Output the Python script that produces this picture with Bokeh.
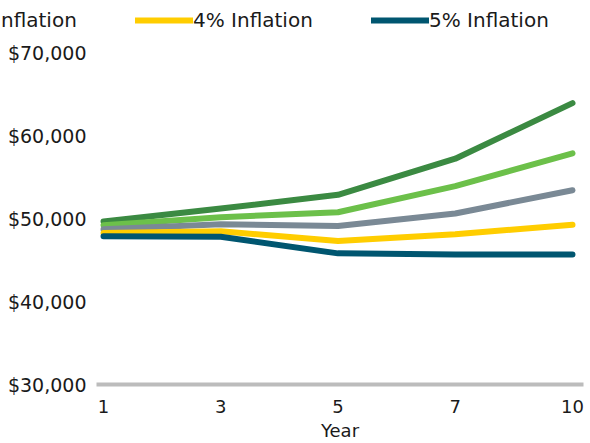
from bokeh.plotting import figure
from bokeh.layouts import column
from bokeh.models import (ColumnDataSource, FixedTicker, NumeralTickFormatter,
                          Legend, LegendItem, Range1d)
from bokeh.embed import file_html
from bokeh.resources import INLINE

# ---- data ----
years = ["1", "3", "5", "7", "10"]
series_names = ["1% Inflation", "2% Inflation", "3% Inflation", "4% Inflation", "5% Inflation"]
infl_1 = [49650, 51200, 52850, 57200, 63900]
infl_2 = [49200, 50150, 50750, 53900, 57850]
infl_3 = [48700, 49300, 49100, 50600, 53400]
infl_4 = [48250, 48450, 47300, 48100, 49250]
infl_5 = [47850, 47800, 45800, 45650, 45650]
y_ticks = [30000, 40000, 50000, 60000, 70000]

colors = ["#3b8a42", "#6cc04a", "#7a8995", "#ffcd00", "#005670"]
all_series = [infl_1, infl_2, infl_3, infl_4, infl_5]

FONT = "DejaVu Sans"
x_idx = list(range(len(years)))
sources = [ColumnDataSource(dict(x=x_idx, y=vals)) for vals in all_series]

# ---- main chart ----
p = figure(width=590, height=403, output_backend="svg", toolbar_location=None,
           x_range=Range1d(-0.06, 4.094), y_range=Range1d(30000, 70000),
           min_border_left=96, min_border_right=7, min_border_top=12,
           min_border_bottom=58)
p.outline_line_color = None
p.xgrid.visible = False
p.ygrid.visible = False

for src, col in zip(sources, colors):
    p.line("x", "y", source=src, line_color=col, line_width=6,
           line_cap="round", line_join="round")

xa = p.xaxis[0]
xa.ticker = FixedTicker(ticks=x_idx)
xa.major_label_overrides = {i: y for i, y in enumerate(years)}
xa.axis_line_color = "#bcbcbc"
xa.axis_line_width = 4
xa.major_tick_line_color = None
xa.minor_tick_line_color = None
xa.major_label_standoff = 9
xa.major_label_text_font = FONT
xa.major_label_text_font_size = "18px"
xa.major_label_text_color = "#1a1a1a"
xa.axis_label = "Year"
xa.axis_label_text_font = FONT
xa.axis_label_text_font_size = "18px"
xa.axis_label_text_font_style = "normal"
xa.axis_label_text_color = "#1a1a1a"
xa.axis_label_standoff = 4

ya = p.yaxis[0]
ya.ticker = FixedTicker(ticks=y_ticks)
ya.formatter = NumeralTickFormatter(format="$0,0")
ya.axis_line_color = None
ya.major_tick_line_color = None
ya.minor_tick_line_color = None
ya.major_label_standoff = 4
ya.major_label_text_font = FONT
ya.major_label_text_font_size = "19px"
ya.major_label_text_color = "#1a1a1a"

# ---- legend strip (same series, drawn out of view; only legend shows) ----
lg = figure(width=590, height=40, output_backend="svg", toolbar_location=None,
            x_range=Range1d(100, 101), y_range=Range1d(0, 1),
            x_axis_type=None, y_axis_type=None,
            min_border_left=0, min_border_right=0, min_border_top=0, min_border_bottom=0)
lg.outline_line_color = None
lg.xgrid.visible = False
lg.ygrid.visible = False
for fig in (lg, p):
    try:
        fig.frame_align = False
    except Exception:
        pass

lg_renderers = []
for src, col in zip(sources, colors):
    lg_renderers.append(lg.line("x", "y", source=src, line_color=col, line_width=6,
                                line_cap="round"))

legend = Legend(items=[LegendItem(label=n, renderers=[r]) for n, r in zip(series_names, lg_renderers)],
                orientation="horizontal", location=(-573, 8),
                glyph_width=58, glyph_height=20, label_standoff=0,
                label_width=178, spacing=0, padding=0, margin=0,
                label_text_font=FONT, label_text_font_size="20px",
                label_text_color="#1a1a1a",
                border_line_color=None, background_fill_alpha=0)
lg.add_layout(legend, "center")

layout = column(lg, p, spacing=0)
open("out.html", "w").write(file_html(layout, INLINE))
